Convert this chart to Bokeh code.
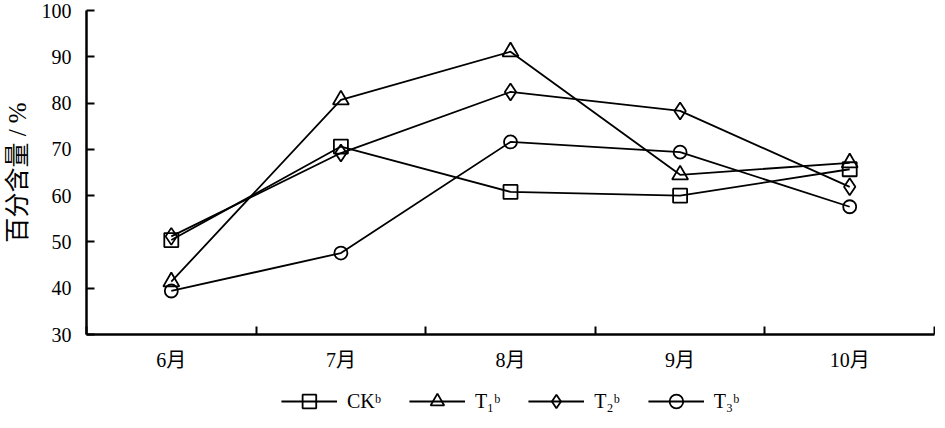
from bokeh.plotting import figure
from bokeh.layouts import column
from bokeh.models import Range1d, FixedTicker, Legend, LegendItem
from bokeh.embed import file_html
from bokeh.resources import INLINE

months = ["6月", "7月", "8月", "9月", "10月"]
ck = [50.4, 70.6, 60.8, 60.0, 65.7]
t1 = [41.4, 80.7, 91.1, 64.5, 67.1]
t2 = [51.2, 69.2, 82.4, 78.3, 61.9]
t3 = [39.4, 47.6, 71.6, 69.4, 57.6]
labels = ["CKᵇ", "T₁ᵇ", "T₂ᵇ", "T₃ᵇ"]
y_ticks = [30, 40, 50, 60, 70, 80, 90, 100]

x = list(range(1, len(months) + 1))
SERIF = "'Liberation Serif', 'Noto Sans CJK SC'"

p = figure(width=935, height=373, output_backend="svg",
           toolbar_location=None, x_range=Range1d(0.5, len(months) + 0.5),
           y_range=Range1d(30, 100), min_border_left=80, min_border_top=10,
           min_border_right=1, min_border_bottom=0)
p.outline_line_color = None
p.grid.grid_line_color = None
p.background_fill_color = "white"

xt = FixedTicker(ticks=x, minor_ticks=[i + 0.5 for i in range(len(months) + 1)])
p.xaxis.ticker = xt
p.xaxis.major_label_overrides = {i: m for i, m in zip(x, months)}
p.xaxis.major_tick_line_color = None
p.xaxis.minor_tick_in = 8
p.xaxis.minor_tick_out = 0
p.xaxis.minor_tick_line_width = 2
p.xaxis.minor_tick_line_color = "black"
p.xaxis.axis_line_width = 2.5
p.xaxis.major_label_text_font = SERIF
p.xaxis.major_label_text_font_size = "20px"
p.xaxis.major_label_text_color = "black"
p.xaxis.major_label_standoff = 8

p.yaxis.ticker = FixedTicker(ticks=y_ticks)
p.yaxis.minor_tick_line_color = None
p.yaxis.major_tick_in = 8
p.yaxis.major_tick_out = 0
p.yaxis.major_tick_line_width = 2
p.yaxis.axis_line_width = 2.5
p.yaxis.major_label_text_font = SERIF
p.yaxis.major_label_text_font_size = "20px"
p.yaxis.major_label_text_color = "black"
p.yaxis.major_label_standoff = 15
p.yaxis.axis_label = "百分含量 / %"
p.yaxis.axis_label_text_font = SERIF
p.yaxis.axis_label_text_font_size = "25px"
p.yaxis.axis_label_text_font_style = "normal"
p.yaxis.axis_label_text_color = "black"
p.yaxis.axis_label_standoff = 8

# legend figure below the chart; its ranges keep the series out of view,
# so only the legend entries show
lg = figure(width=935, height=50, output_backend="svg", toolbar_location=None,
            x_range=Range1d(-100, -99), y_range=Range1d(-100, -99),
            min_border_left=80, min_border_right=1, min_border_top=6,
            min_border_bottom=0)
lg.axis.visible = False
lg.grid.grid_line_color = None
lg.outline_line_color = None

series = [ck, t1, t2, t3]
markers = ["square", "triangle", "diamond", "circle"]
sizes = [14, 16, 17, 13]
items = []
for ys, mk, sz, lab in zip(series, markers, sizes, labels):
    p.line(x, ys, line_color="black", line_width=1.8)
    p.scatter(x, ys, marker=mk, size=sz, line_color="black",
              line_width=1.8, fill_alpha=0)
    lr = lg.line(x, ys, line_color="black", line_width=1.8)
    sr = lg.scatter(x, ys, marker=mk, size=sz, line_color="black",
                    line_width=1.8, fill_alpha=0)
    items.append(LegendItem(label=lab, renderers=[lr, sr]))

legend = Legend(items=items, orientation="horizontal", location="center",
                border_line_color=None, background_fill_alpha=0,
                label_text_font=SERIF, label_text_font_size="20px",
                label_text_color="black", glyph_width=56, glyph_height=34,
                label_standoff=10, spacing=28, margin=0, padding=0)
lg.add_layout(legend, "center")

page = column(p, lg, spacing=0)
open("out.html", "w").write(file_html(page, INLINE))
